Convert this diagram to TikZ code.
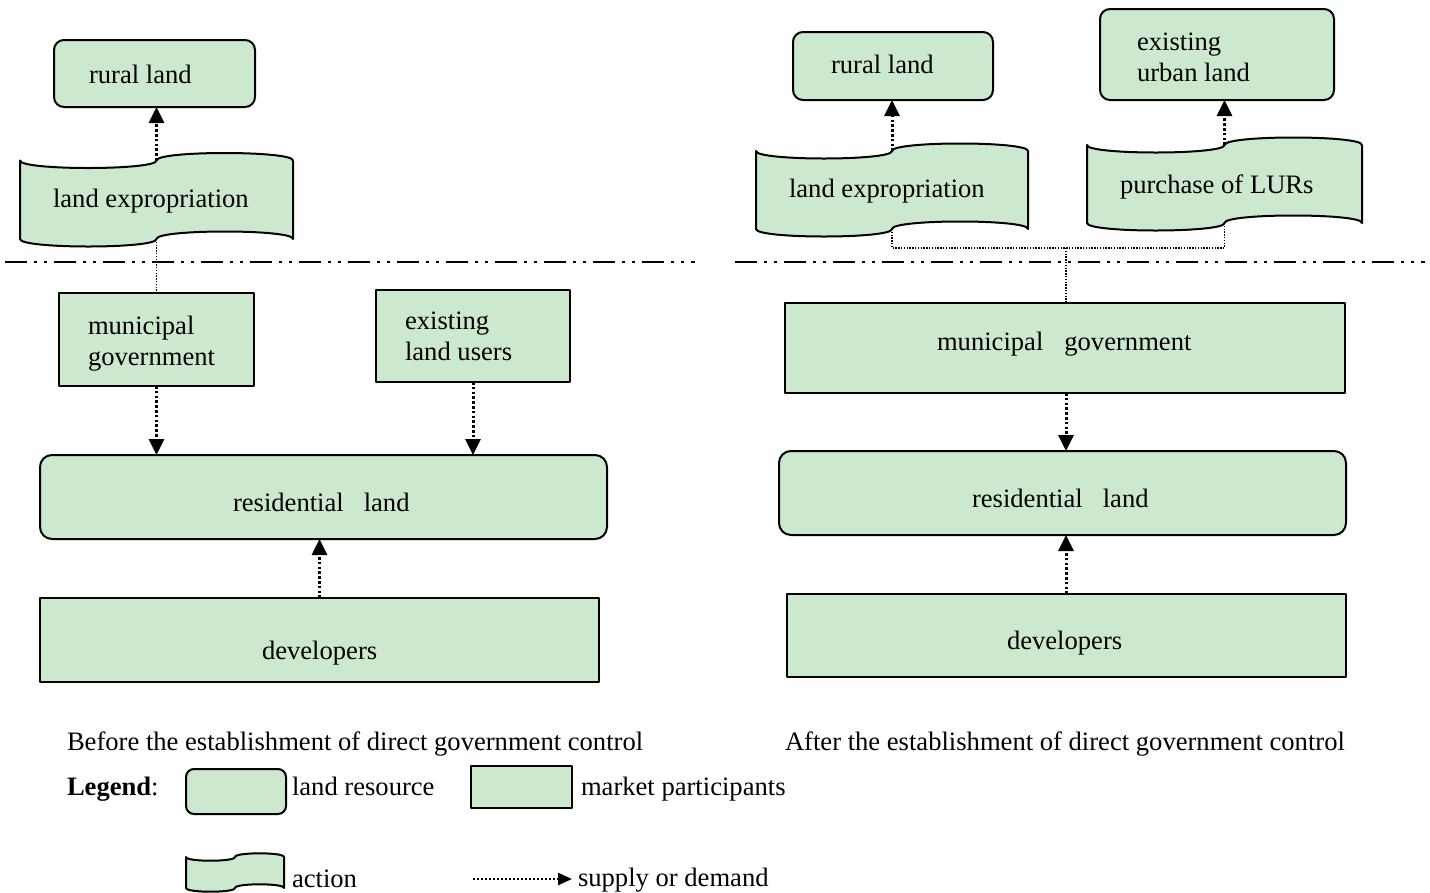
\documentclass[tikz,border=0pt]{standalone}
\usepackage{fontspec}
\setmainfont{Liberation Serif}
\usetikzlibrary{arrows.meta}
\definecolor{boxfill}{RGB}{204,232,207}
\newcommand\drawtape[6]{% #1 name, #2 x1, #3 top, #4 x2, #5 bottom, #6 amplitude
  \pgfmathsetmacro\tXm{(#2+#4)/2}%
  \pgfmathsetmacro\tA{4*#6/3}%
  \path[tapeshp] (#2,#3) .. controls (#2,#3+\tA) and (\tXm,#3+\tA) .. (\tXm,#3)
     .. controls (\tXm,#3-\tA) and (#4,#3-\tA) .. (#4,#3) -- (#4,#5)
     .. controls (#4,#5-\tA) and (\tXm,#5-\tA) .. (\tXm,#5)
     .. controls (\tXm,#5+\tA) and (#2,#5+\tA) .. (#2,#5) -- cycle;
  \coordinate (#1-top) at (\tXm,#3);
  \coordinate (#1-bot) at (\tXm,#5);
}
\begin{document}
\begin{tikzpicture}[x=1pt,y=-1pt,line join=round,
  every node/.style={font=\fontsize{26.6}{31}\selectfont, inner sep=0pt, outer sep=0pt},
  participant/.style={draw=black, fill=boxfill, line width=2pt, rectangle},
  landres/.style={participant, rounded corners=10pt},
  tapeshp/.style={draw=black, fill=boxfill, line width=2pt},
  flow/.style={line width=3pt, dash pattern=on 2.6pt off 2.2pt, -{Triangle[width=15pt,length=16pt]}},
  link/.style={line width=1.4pt, dash pattern=on 1.4pt off 1.4pt},
  divider/.style={line width=2pt, dash pattern=on 22pt off 7pt on 3pt off 7pt on 3pt off 7pt},
  txt/.style={anchor=base west, align=left}]
\useasboundingbox (0,0) rectangle (1430,892);

% ---------- dividers
\coordinate (dl1) at (5,262);
\coordinate (dl2) at (695,262);
\coordinate (dr1) at (735,262);
\coordinate (dr2) at (1425,262);
\draw[divider] (dl1) -- (dl2);
\draw[divider] (dr1) -- (dr2);

% ---------- left panel
\node[landres, minimum width=201pt, minimum height=67pt] (rl1) at (154.5,73.5) {};
\node[txt] (rl1t) at (89,83) {rural land};
\drawtape{tp1}{20}{160.5}{293}{239}{7.5}
\node[txt] (tp1t) at (53,207) {land expropriation};
\node[participant, minimum width=195pt, minimum height=93pt] (mg1) at (156.5,339.5) {};
\node[txt] (mg1t) at (88,365.5) {municipal\\government};
\node[participant, minimum width=194pt, minimum height=92pt] (eu1) at (473,336) {};
\node[txt] (eu1t) at (405,360.5) {existing\\land users};
\node[landres, rounded corners=12pt, minimum width=567pt, minimum height=84pt] (rs1) at (323.5,497) {};
\node[txt] (rs1t) at (233,511) {residential\hspace{20pt}land};
\node[participant, minimum width=559pt, minimum height=84pt] (dv1) at (319.5,640) {};
\node[txt] (dv1t) at (262,659) {developers};

\draw[flow] (tp1-top) -- (tp1-top |- rl1.south);
\draw[link] (tp1-bot) -- (tp1-bot |- mg1.north);
\draw[flow] (mg1.south) -- (mg1.south |- rs1.north);
\draw[flow] (eu1.south) -- (eu1.south |- rs1.north);
\draw[flow] (dv1.north) -- (dv1.north |- rs1.south);

% ---------- right panel
\node[landres, minimum width=200pt, minimum height=68pt] (rl2) at (893,66) {};
\node[txt] (rl2t) at (831,73) {rural land};
\node[landres, minimum width=234pt, minimum height=91pt] (ul2) at (1217,54.5) {};
\node[txt] (ul2t) at (1137,81) {existing\\urban land};
\drawtape{tp2}{756}{151}{1028}{229}{7.5}
\node[txt] (tp2t) at (789,197) {land expropriation};
\drawtape{tp3}{1087}{145}{1362}{223}{7.5}
\node[txt] (tp3t) at (1120,193) {purchase of LURs};
\node[participant, minimum width=560pt, minimum height=90pt] (mg2) at (1065,348) {};
\node[txt] (mg2t) at (937,350) {municipal\hspace{21pt}government};
\node[landres, rounded corners=12pt, minimum width=567pt, minimum height=84pt] (rs2) at (1062.5,493) {};
\node[txt] (rs2t) at (972,507.5) {residential\hspace{20pt}land};
\node[participant, minimum width=559pt, minimum height=83pt] (dv2) at (1066.5,635.5) {};
\node[txt] (dv2t) at (1007,649.5) {developers};

\draw[flow] (tp2-top) -- (tp2-top |- rl2.south);
\draw[flow] (tp3-top) -- (tp3-top |- ul2.south);
\coordinate (jn) at (1066,248);
\draw[link] (tp2-bot) -- (tp2-bot |- jn) -- (tp3-bot |- jn) -- (tp3-bot);
\draw[link] (jn) -- (jn |- mg2.north);
\draw[flow] (mg2.south -| jn) -- (rs2.north -| jn);
\draw[flow] (dv2.north -| jn) -- (rs2.south -| jn);

% ---------- captions
\node[txt] (cap1) at (67,750) {Before the establishment of direct government control};
\node[txt] (cap2) at (785,750) {After the establishment of direct government control};

% ---------- legend
\node[txt] (lgt) at (67,795) {\textbf{Legend}:};
\node[landres, rounded corners=8pt, minimum width=100pt, minimum height=45pt] (lg1) at (236,791.5) {};
\node[txt] (lg1t) at (292,795) {land resource};
\node[participant, minimum width=101pt, minimum height=42pt] (lg2) at (521.5,787) {};
\node[txt] (lg2t) at (581,795) {market participants};
\drawtape{lg3}{186}{857}{284}{888}{3.7}
\node[txt] (lg3t) at (292,887) {action};
\coordinate (la1) at (473,879);
\coordinate (la2) at (572,879);
\node[txt] (lg4t) at (578,886) {supply or demand};
\draw[line width=2.4pt, dash pattern=on 2pt off 2pt, -{Triangle[width=12pt,length=14pt]}] (la1) -- (la2);
\end{tikzpicture}
\end{document}
